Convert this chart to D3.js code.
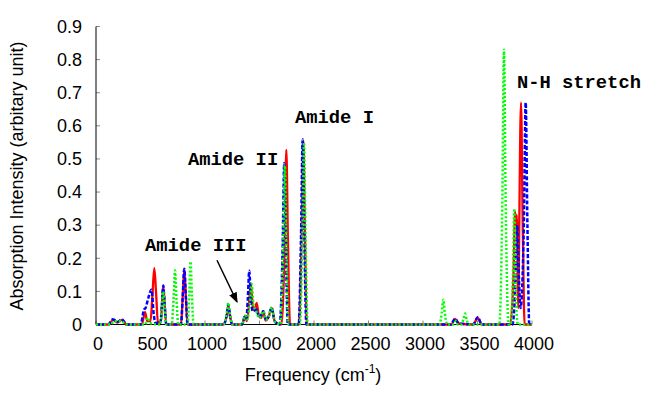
<!DOCTYPE html>
<html>
  <head>
    <script src="https://cdnjs.cloudflare.com/ajax/libs/d3/7.8.5/d3.min.js"></script>
    <style>
      body { margin: 0; background: #fff; }
      path.red { fill: none; stroke: #ff0000; stroke-width: 2.3; }
      path.blue { fill: none; stroke: #0000ff; stroke-width: 2.5; stroke-dasharray: 4 2; }
      path.green { fill: none; stroke: #00ff00; stroke-width: 2.5; stroke-dasharray: 2 2; }
      line.tick { stroke: #888; stroke-width: 1; }
      line.axis { stroke: #000; stroke-width: 1; }
      text.tick { font-family: "Liberation Sans", Arial, sans-serif; font-size: 18px; fill: #000; }
      text.title { font-family: "Liberation Sans", Arial, sans-serif; font-size: 18px; fill: #000; }
      text.label { font-family: "Liberation Mono", "Courier New", monospace; font-weight: bold; font-size: 18.8px; fill: #000; }
    </style>
  </head>
  <body>
    <svg width="654" height="408"></svg>
    <script>
      // ticks
      var xTicks = [0, 500, 1000, 1500, 2000, 2500, 3000, 3500, 4000];
      var yTicks = [0, 0.1, 0.2, 0.3, 0.4, 0.5, 0.6, 0.7, 0.8, 0.9];

      // spectra: [frequency, intensity]
      var redSpectrum = [
        [0,0],[120,0],[156,0.014],[195,0.006],[239,0.014],[280,0],
        [420,0],[450,0.037],[470,0.01],[500,0.01],[518,0.09],[535,0.17],[552,0.09],[568,0.005],
        [595,0.008],[605,0.06],[617,0.115],[630,0.06],[645,0],
        [780,0],[795,0.08],[810,0.165],[825,0.08],[840,0],
        [1170,0],[1200,0.028],[1214,0.055],[1228,0.028],[1250,0],
        [1340,0],[1367,0.025],[1385,0.01],[1405,0.07],[1419,0.125],[1440,0.05],[1455,0.042],[1474,0.065],
        [1495,0.025],[1515,0.02],[1535,0.04],[1555,0.012],[1580,0.02],[1612,0.05],[1640,0.01],
        [1700,0],[1731,0.25],[1746,0.527],[1761,0.25],[1780,0],
        [1860,0],[1887,0.27],[1902,0.555],[1917,0.27],[1935,0],
        [3260,0],[3294,0.017],[3325,0.003],[3460,0],[3502,0.02],[3540,0],
        [3800,0],[3830,0.15],[3845,0.34],[3853,0.3],[3860,0.33],[3875,0.05],
        [3883,0.3],[3899,0.67],[3915,0.3],[3932,0],[4000,0]
      ];

      var blueSpectrum = [
        [0,0],[110,0],[156,0.016],[195,0.008],[239,0.015],[280,0],
        [410,0],[440,0.045],[455,0.05],[480,0.08],[509,0.105],[530,0.03],[545,0.005],
        [590,0.005],[605,0.06],[617,0.118],[630,0.06],[645,0],
        [780,0],[795,0.08],[810,0.168],[825,0.08],[840,0],
        [1170,0],[1200,0.03],[1214,0.06],[1228,0.03],[1250,0],
        [1340,0],[1367,0.025],[1380,0.02],[1393,0.08],[1406,0.162],[1420,0.08],[1440,0.04],[1470,0.045],
        [1500,0.02],[1535,0.04],[1560,0.015],[1585,0.025],[1612,0.05],[1640,0.01],
        [1685,0],[1712,0.23],[1727,0.487],[1742,0.23],[1760,0],
        [1860,0],[1881,0.27],[1896,0.559],[1911,0.27],[1930,0],
        [3255,0],[3294,0.017],[3330,0.003],[3460,0],[3502,0.022],[3540,0],
        [3820,0],[3850,0.14],[3865,0.3],[3880,0.14],[3895,0.05],
        [3925,0.3],[3942,0.67],[3958,0.3],[3975,0],[4000,0]
      ];

      var greenSpectrum = [
        [0,0],[130,0],[170,0.01],[230,0.01],[280,0],
        [450,0],[477,0.02],[500,0.004],[590,0],[605,0.05],[617,0.1],[630,0.05],[645,0],
        [695,0],[712,0.08],[725,0.163],[738,0.08],[755,0],
        [840,0],[855,0.09],[867,0.19],[880,0.09],[895,0],
        [1170,0],[1200,0.035],[1214,0.066],[1228,0.035],[1250,0],
        [1340,0],[1367,0.027],[1385,0.015],[1410,0.06],[1428,0.122],[1445,0.06],[1470,0.04],
        [1500,0.02],[1535,0.04],[1560,0.015],[1585,0.025],[1612,0.052],[1640,0.01],
        [1690,0],[1717,0.23],[1732,0.48],[1747,0.23],[1765,0],
        [1870,0],[1893,0.26],[1908,0.55],[1923,0.26],[1942,0],
        [3150,0],[3172,0.035],[3186,0.075],[3200,0.035],[3222,0],
        [3280,0],[3300,0.01],[3320,0],[3350,0],[3370,0.015],[3385,0.033],[3400,0.015],[3420,0],
        [3700,0],[3728,0.38],[3743,0.83],[3758,0.38],[3785,0],
        [3805,0],[3825,0.15],[3838,0.35],[3852,0.1],[3870,0],[4000,0]
      ];

      var x = d3.scaleLinear().domain([0, 4000]).range([96, 532]);
      var y = d3.scaleLinear().domain([0, 0.9]).range([324.5, 26.5]);

      var svg = d3.select("svg");

      // ticks point inward, grey
      svg.selectAll("line.ytick").data(yTicks).enter().append("line")
        .attr("class", "tick")
        .attr("x1", x(0)).attr("x2", x(0) + 4)
        .attr("y1", d => y(d)).attr("y2", d => y(d));
      svg.selectAll("line.xtick").data(xTicks).enter().append("line")
        .attr("class", "tick")
        .attr("x1", d => x(d)).attr("x2", d => x(d))
        .attr("y1", y(0)).attr("y2", y(0) - 4);

      svg.append("line").attr("class", "axis")
        .attr("x1", x(0)).attr("x2", x(0)).attr("y1", y(0.9)).attr("y2", y(0));
      svg.append("line").attr("class", "axis")
        .attr("x1", x(0)).attr("x2", x(4000)).attr("y1", y(0)).attr("y2", y(0));

      svg.selectAll("text.ylab").data(yTicks).enter().append("text")
        .attr("class", "tick")
        .attr("x", x(0) - 14).attr("y", d => y(d))
        .attr("dy", "0.35em")
        .attr("text-anchor", "end")
        .text(d => d === 0 ? "0" : d3.format(".1f")(d));
      svg.selectAll("text.xlab").data(xTicks).enter().append("text")
        .attr("class", "tick")
        .attr("x", d => x(d) + 2).attr("y", y(0) + 25.5)
        .attr("text-anchor", "middle")
        .text(d => d);

      // axis titles
      svg.append("text").attr("class", "title")
        .attr("transform", "translate(23,176) rotate(-90)")
        .attr("text-anchor", "middle")
        .text("Absorption Intensity (arbitary unit)");
      var xt = svg.append("text").attr("class", "title")
        .attr("x", 313).attr("y", 381).attr("text-anchor", "middle");
      xt.append("tspan").text("Frequency (cm");
      xt.append("tspan").attr("dy", -8).style("font-size", "12px").text("-1");
      xt.append("tspan").attr("dy", 8).text(")");

      // spectra
      var line = d3.line()
        .x(d => x(d[0]))
        .y(d => y(d[1]))
        .curve(d3.curveMonotoneX);

      svg.append("path").datum(redSpectrum).attr("class", "red").attr("d", line);
      svg.append("path").datum(blueSpectrum).attr("class", "blue").attr("d", line);
      svg.append("path").datum(greenSpectrum).attr("class", "green").attr("d", line);

      // annotations
      svg.append("defs").append("marker")
        .attr("id", "head")
        .attr("viewBox", "0 0 10 10")
        .attr("refX", 9).attr("refY", 5)
        .attr("markerWidth", 7).attr("markerHeight", 7)
        .attr("orient", "auto")
        .append("path").attr("d", "M0,1L10,5L0,9z").attr("fill", "#000");

      svg.append("line")
        .attr("x1", x(1110)).attr("y1", y(0.194))
        .attr("x2", x(1294)).attr("y2", y(0.068))
        .attr("stroke", "#000").attr("stroke-width", 1.5)
        .attr("marker-end", "url(#head)");

      var labels = [
        { text: "Amide III", f: 450, v: 0.222 },
        { text: "Amide II", f: 844, v: 0.481 },
        { text: "Amide I", f: 1826, v: 0.61 },
        { text: "N-H stretch", f: 3862, v: 0.713 }
      ];
      svg.selectAll("text.label").data(labels).enter().append("text")
        .attr("class", "label")
        .attr("x", d => x(d.f)).attr("y", d => y(d.v))
        .text(d => d.text);
    </script>
  </body>
</html>
